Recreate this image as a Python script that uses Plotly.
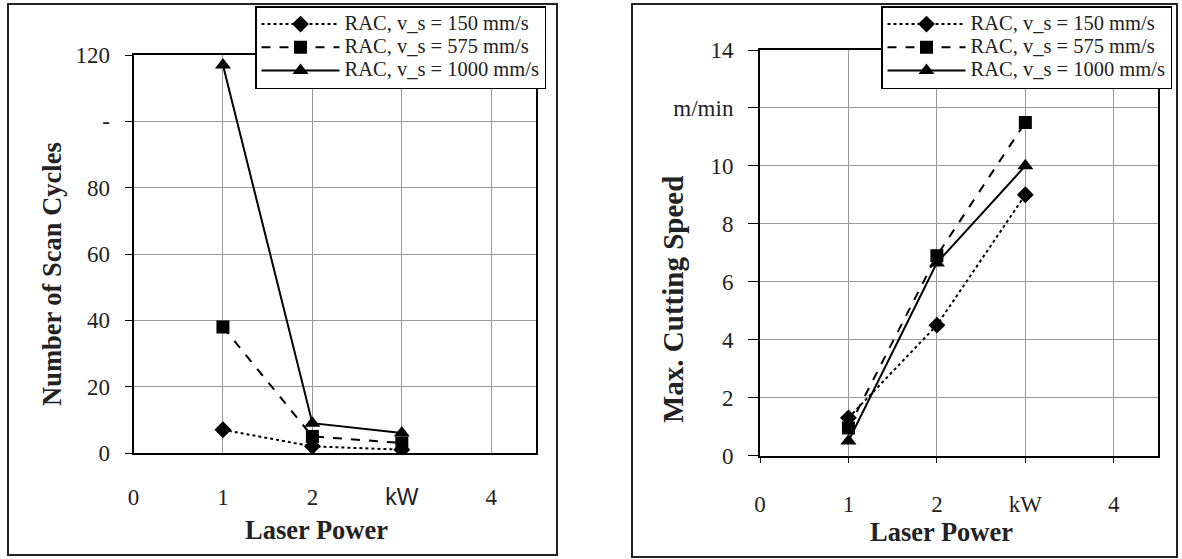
import plotly.graph_objects as go

W, H = 1182, 559

# ---- data ----
power = [1, 2, 3]
series_names = ["RAC, v_s = 150 mm/s", "RAC, v_s = 575 mm/s", "RAC, v_s = 1000 mm/s"]
scan_150 = [7, 2, 1]
scan_575 = [38, 5, 3]
scan_1000 = [117, 9, 6]
speed_150 = [1.3, 4.5, 9.0]
speed_575 = [0.95, 6.9, 11.5]
speed_1000 = [0.5, 6.65, 10.0]

x_tickvals = [0, 1, 2, 3, 4]
x_ticktext_left = ["0", "1", "2", '<span style="font-family:Liberation Sans">kW</span>', "4"]
x_ticktext_right = ["0", "1", "2", "kW", "4"]
y1_tickvals = [0, 20, 40, 60, 80, 100, 120]
y1_ticktext = ["0", "20", "40", "60", "80", "-", "120"]
y2_tickvals = [0, 2, 4, 6, 8, 10, 12, 14]
y2_ticktext = ["0", "2", "4", "6", "8", "10", "m/min", "14"]

SERIF = "Liberation Serif"
styles = [("dot", "diamond", 13), ("dash", "square", 13), ("solid", "triangle-up", 14)]

fig = go.Figure()

def legend_label(name):
    return '<span style="font-size:20.5px">' + name + '</span>'

left_sets = [scan_150, scan_575, scan_1000]
right_sets = [speed_150, speed_575, speed_1000]
for i, (name, ys) in enumerate(zip(series_names, left_sets)):
    dash, sym, size = styles[i]
    fig.add_trace(go.Scatter(x=power, y=ys, name=legend_label(name), mode="lines+markers",
                             line=dict(color="black", width=2, dash=dash),
                             marker=dict(symbol=sym, size=size, color="black"),
                             xaxis="x", yaxis="y", legend="legend"))
for i, (name, ys) in enumerate(zip(series_names, right_sets)):
    dash, sym, size = styles[i]
    fig.add_trace(go.Scatter(x=power, y=ys, name=legend_label(name), mode="lines+markers",
                             line=dict(color="black", width=2, dash=dash),
                             marker=dict(symbol=sym, size=size, color="black"),
                             xaxis="x2", yaxis="y2", legend="legend2"))

def px_x(v):
    return v / W

def px_y(v):
    return 1 - v / H

axis_common = dict(showgrid=True, gridcolor="#9a9a9a", gridwidth=1,
                   showline=True, linecolor="black", linewidth=2, mirror=True,
                   zeroline=False, automargin=False,
                   tickfont=dict(family=SERIF, size=23, color="#222"))

xcommon = dict(axis_common, range=[0, 4.5], tickmode="array", tickvals=x_tickvals,
               ticks="outside", ticklen=5, tickcolor="black", ticklabelstandoff=22)

legend_common = dict(xanchor="left", yanchor="top",
                     bgcolor="white", bordercolor="black", borderwidth=1.5,
                     font=dict(family=SERIF, size=15.5, color="#222"),
                     itemwidth=78, tracegroupgap=0)

fig.update_layout(
    width=W, height=H, autosize=False,
    margin=dict(l=0, r=0, t=0, b=0, pad=0, autoexpand=False),
    paper_bgcolor="white", plot_bgcolor="white",
    font=dict(family=SERIF, size=20, color="#222"),
    xaxis=dict(xcommon, domain=[px_x(133.5), px_x(536)], anchor="y",
               ticktext=x_ticktext_left, ticklen=0),
    yaxis=dict(axis_common, domain=[px_y(453), px_y(55)], anchor="x", range=[0, 120],
               tickmode="array", tickvals=y1_tickvals, ticktext=y1_ticktext,
               ticks="outside", ticklen=7, tickcolor="black", ticklabelstandoff=10),
    xaxis2=dict(xcommon, domain=[px_x(760), px_x(1158)], anchor="y2",
                ticktext=x_ticktext_right),
    yaxis2=dict(axis_common, domain=[px_y(455.5), px_y(50)], anchor="x2", range=[0, 14],
                tickmode="array", tickvals=y2_tickvals, ticktext=y2_ticktext,
                ticks="outside", ticklen=10, tickcolor="black", ticklabelstandoff=10),
    legend=dict(legend_common, x=px_x(255), y=px_y(6)),
    legend2=dict(legend_common, x=px_x(881), y=px_y(6)),
    showlegend=True,
)

# panel frames
fig.add_shape(type="rect", xref="paper", yref="paper",
              x0=px_x(8), x1=px_x(557), y0=px_y(555), y1=px_y(4),
              line=dict(color="#222", width=2), layer="below")
fig.add_shape(type="rect", xref="paper", yref="paper",
              x0=px_x(632), x1=px_x(1177), y0=px_y(557), y1=px_y(4),
              line=dict(color="#222", width=2), layer="below")

def title(text, x, y, size, angle=0):
    fig.add_annotation(text="<b>" + text + "</b>", textangle=angle,
                       x=px_x(x), y=px_y(y), xref="paper", yref="paper",
                       xanchor="center", yanchor="middle", showarrow=False,
                       font=dict(family=SERIF, size=size, color="#222"))

title("Number of Scan Cycles", 52, 274, 26.5, -90)
title("Max. Cutting Speed", 673, 300, 29, -90)
title("Laser Power", 316, 530, 26.5)
title("Laser Power", 941, 532, 26.5)

fig.write_html("out.html", config={"displayModeBar": False},
               post_script="document.body.style.margin='0';")
